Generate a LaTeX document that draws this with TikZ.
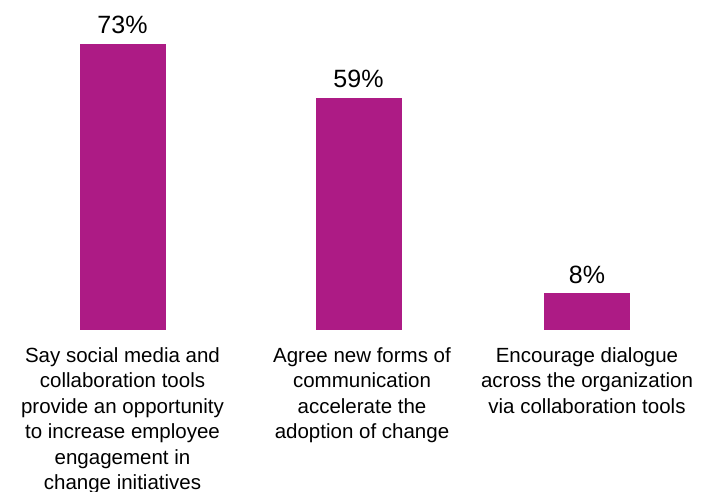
\documentclass[tikz,border=0pt]{standalone}
\usepackage{fontspec}
\setmainfont{Liberation Sans}
\usetikzlibrary{positioning}
\definecolor{barpink}{RGB}{173,27,133}
\begin{document}
\begin{tikzpicture}[x=1pt,y=-1pt,
  bar/.style={fill=barpink, minimum width=86pt, inner sep=0pt, anchor=south},
  pct/.style={font=\fontsize{25}{30}\selectfont, inner sep=0pt},
  lbl/.style={font=\fontsize{20.5}{25.5}\selectfont, align=center, inner sep=0pt}]
\useasboundingbox (0,0) rectangle (710,491);
\node[bar, minimum height=286pt] (bar1) at (122.5,330){};
\node[bar, minimum height=232pt] (bar2) at (358.5,330){};
\node[bar, minimum height=37pt] (bar3) at (587,330){};
\node[pct, above=10pt of bar1.north, anchor=base] (pct1) {73\%};
\node[pct, above=10pt of bar2.north, anchor=base] (pct2) {59\%};
\node[pct, above=9pt of bar3.north, anchor=base] (pct3) {8\%};
\node[lbl, below=17pt of bar1.south] (lbl1) {Say social media and\\collaboration tools\\provide an opportunity\\to increase employee\\engagement in\\change initiatives};
\node[lbl, below=17pt of bar2.south, xshift=3.5pt] (lbl2) {Agree new forms of\\communication\\accelerate the\\adoption of change};
\node[lbl, below=17pt of bar3.south] (lbl3) {Encourage dialogue\\across the organization\\via collaboration tools};
\end{tikzpicture}
\end{document}
